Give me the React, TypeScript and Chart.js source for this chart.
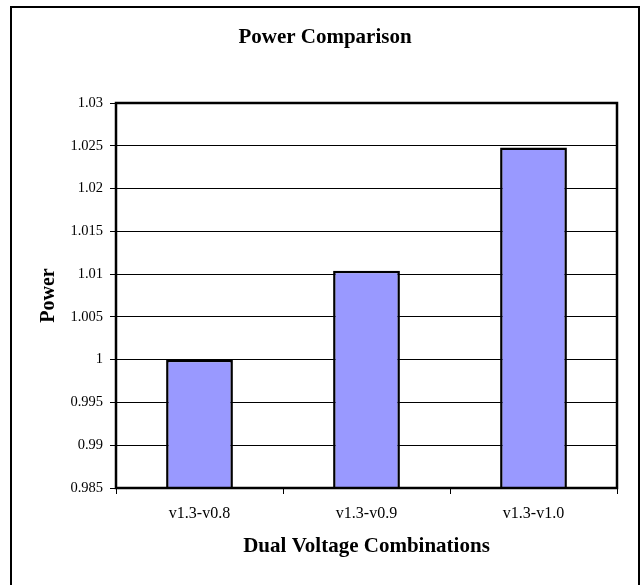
import React, { useEffect, useRef } from "react";
import { Chart, registerables } from "chart.js";

Chart.register(...registerables);

const chartTitle = "Power Comparison";
const xAxisTitle = "Dual Voltage Combinations";
const yAxisTitle = "Power";
const categories = ["v1.3-v0.8", "v1.3-v0.9", "v1.3-v1.0"];
const powerValues = [1.0, 1.0104, 1.0248];
const yMin = 0.985;
const yMax = 1.03;
const yStep = 0.005;

const W = 641;
const H = 585;
const FONT = "'Liberation Serif', 'Times New Roman', serif";

const decorPlugin = {
  id: "excelDecor",
  beforeDraw(chart: any) {
    const ctx = chart.ctx;
    ctx.save();
    ctx.fillStyle = "#fff";
    ctx.fillRect(0, 0, W, H);
    ctx.strokeStyle = "#000";
    ctx.lineWidth = 2;
    ctx.strokeRect(11, 7, 628, 590);
    ctx.restore();
  },
  afterDraw(chart: any) {
    const ctx = chart.ctx;
    const a = chart.chartArea;
    ctx.save();
    ctx.strokeStyle = "#000";
    ctx.lineWidth = 2.5;
    ctx.strokeRect(a.left, a.top, a.right - a.left, a.bottom - a.top);
    ctx.fillStyle = "#000";
    ctx.textAlign = "center";
    ctx.textBaseline = "middle";
    ctx.font = `bold 21px ${FONT}`;
    ctx.fillText(chartTitle, 325, 38);
    ctx.fillText(xAxisTitle, (a.left + a.right) / 2, 547);
    ctx.translate(49, (a.top + a.bottom) / 2);
    ctx.rotate(-Math.PI / 2);
    ctx.font = `bold 20px ${FONT}`;
    ctx.fillText(yAxisTitle, 0, 0);
    ctx.restore();
  },
};

export default function App() {
  const ref = useRef<HTMLCanvasElement>(null);
  useEffect(() => {
    if (!ref.current) return;
    const chart = new Chart(ref.current, {
      type: "bar",
      data: {
        labels: categories,
        datasets: [
          {
            data: powerValues,
            backgroundColor: "#9999FF",
            borderColor: "#000",
            borderWidth: 2.5,
            barPercentage: 0.4,
            categoryPercentage: 1,
          },
        ],
      },
      options: {
        responsive: false,
        animation: false,
        devicePixelRatio: 1,
        layout: { padding: { left: 0, right: 24, top: 103, bottom: 0 } },
        plugins: { legend: { display: false }, tooltip: { enabled: false }, title: { display: false } },
        scales: {
          x: {
            afterFit: (s: any) => {
              s.height = H - 488;
            },
            grid: { drawOnChartArea: false, drawTicks: true, tickLength: 6, color: "#000", offset: true },
            border: { display: false },
            ticks: { color: "#000", padding: 10, font: { family: FONT, size: 16 } },
          },
          y: {
            min: yMin,
            max: yMax,
            afterFit: (s: any) => {
              s.width = 116;
            },
            grid: { color: "#000", lineWidth: 1, tickLength: 6 },
            border: { display: false },
            ticks: {
              stepSize: yStep,
              color: "#000",
              padding: 7,
              font: { family: FONT, size: 14.5 },
              callback: (v: any) => String(Number(Number(v).toFixed(3))),
            },
          },
        },
      },
      plugins: [decorPlugin],
    });
    return () => chart.destroy();
  }, []);
  return (
    <div style={{ position: "fixed", left: 0, top: 0, width: W, height: H, background: "#fff" }}>
      <canvas ref={ref} width={W} height={H} style={{ width: W, height: H, display: "block" }} />
    </div>
  );
}
